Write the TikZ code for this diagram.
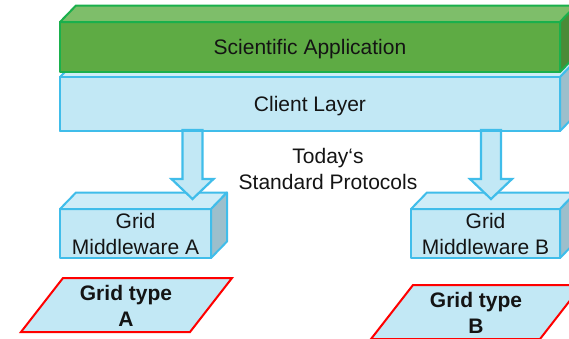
\documentclass[tikz,border=0pt]{standalone}
\usepackage{fontspec}
\setmainfont{Liberation Sans}
\usetikzlibrary{calc}

\definecolor{grnfront}{HTML}{5EAB44}
\definecolor{grntop}{HTML}{7EBE6A}
\definecolor{grnside}{HTML}{4A8B37}
\definecolor{grnline}{HTML}{1AB04C}
\definecolor{bluefill}{HTML}{C2E8F5}
\definecolor{bluetop}{HTML}{CEEDF8}
\definecolor{blueside}{HTML}{9CBFCC}
\definecolor{blueline}{HTML}{40BDEA}
\definecolor{txt}{HTML}{141414}

% top and side faces of a box whose front face is node #1
\newcommand\boxfaces[4]{%
  \draw[facestyle, draw=#4, fill=#2]
    (#1.north west) -- ++(16,-16.5) -- ($(#1.north east)+(16,-16.5)$)
    -- (#1.north east) -- cycle;
  \draw[facestyle, draw=#4, fill=#3]
    (#1.north east) -- ++(16,-16.5) -- ($(#1.south east)+(16,-16.5)$)
    -- (#1.south east) -- cycle;
}

% wide block arrow from the bottom of node #1 down to the tip coordinate #2
\newcommand\blockarrow[2]{%
  \draw[arrowstyle] let \p1=(#1.south), \p2=(#2) in
    (\x2-10pt,\y1+1pt) -- (\x2-10pt,\y2+20pt) -- (\x2-21pt,\y2+20pt)
    -- (\x2,\y2) -- (\x2+21pt,\y2+20pt) -- (\x2+10pt,\y2+20pt)
    -- (\x2+10pt,\y1+1pt) -- cycle;
}

\tikzset{
  facestyle/.style={line width=2pt, line join=round},
  front/.style={rectangle, line width=2pt, line join=round, inner sep=0pt,
    outer sep=0pt, text=txt, align=center,
    font=\fontsize{21}{26}\selectfont},
  oneline/.style={text depth=0pt},
  greenfront/.style={front, draw=grnline, fill=grnfront},
  bluefront/.style={front, draw=blueline, fill=bluefill},
  arrowstyle/.style={line width=2.2pt, draw=blueline, fill=bluefill,
    line join=miter},
  gridtype/.style={line width=2pt, draw=red, fill=bluefill, line join=miter},
  gridlabel/.style={text=txt, align=center,
    font=\fontsize{21}{26}\selectfont\bfseries},
  plain/.style={text=txt, align=center, font=\fontsize{21}{26}\selectfont},
}

\begin{document}
\begin{tikzpicture}[x=1pt, y=-1pt]
  \clip (0,0) rectangle (569,338);
  \fill[white] (0,0) rectangle (569,338);

  % grid middleware boxes
  \node[bluefront, minimum width=151pt, minimum height=49pt]
    (mwA) at (135.5,233.5) {Grid\\Middleware A};
  \boxfaces{mwA}{bluetop}{blueside}{blueline}
  \node[bluefront, minimum width=149pt, minimum height=49pt]
    (mwB) at (485.5,233.5) {Grid\\Middleware B};
  \boxfaces{mwB}{bluetop}{blueside}{blueline}

  % client layer (drawn before the application box, which covers its top)
  \node[bluefront, minimum width=500pt, minimum height=54pt]
    (client) at (310,104) {};
  \boxfaces{client}{bluetop}{blueside}{blueline}
  \node[bluefront, oneline, minimum width=500pt, minimum height=54pt]
    (clientfront) at (310,104) {Client Layer};

  % arrows from the client layer to the middleware
  \coordinate (tipA) at (192.5,199);
  \coordinate (tipB) at (491,199);
  \blockarrow{client}{tipA}
  \blockarrow{client}{tipB}
  \draw[line width=2pt, draw=blueline] (client.south west) -- (client.south east);

  % scientific application box
  \node[greenfront, oneline, minimum width=500pt, minimum height=50pt]
    (sci) at (310,47) {Scientific Application};
  \boxfaces{sci}{grntop}{grnside}{grnline}

  % protocol label
  \node[plain] (proto) at (328,169) {Today‘s\\Standard Protocols};

  % grid types
  \coordinate (gA1) at (63,278);  \coordinate (gA2) at (232,278);
  \coordinate (gA3) at (190,332); \coordinate (gA4) at (21,332);
  \draw[gridtype] (gA1) -- (gA2) -- (gA3) -- (gA4) -- cycle;
  \node[gridlabel] (gtA) at (126,306) {Grid type\\A};

  \coordinate (gB1) at (413,285); \coordinate (gB2) at (582,285);
  \coordinate (gB3) at (540,339); \coordinate (gB4) at (371,339);
  \draw[gridtype] (gB1) -- (gB2) -- (gB3) -- (gB4) -- cycle;
  \node[gridlabel] (gtB) at (476,312.5) {Grid type\\B};
\end{tikzpicture}
\end{document}
